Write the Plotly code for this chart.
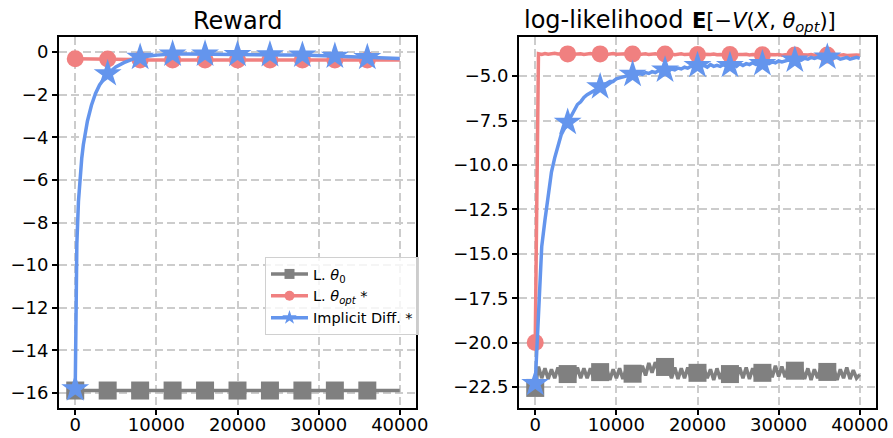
import plotly.graph_objects as go

# ---------------- data ----------------
# Reward panel (training steps vs. reward)
steps_reward = [0, 100, 200, 400, 600, 800, 1000, 1500, 2000, 2500, 3000, 3500, 4000,
                5000, 6000, 7000, 8000, 10000, 12000, 14000, 16000, 18000, 20000,
                22000, 24000, 26000, 28000, 30000, 32000, 34000, 36000, 38000, 40000]
reward_theta0 = [-15.88] * len(steps_reward)
reward_theta_opt = [-0.32, -0.32, -0.32, -0.32, -0.32, -0.32, -0.32, -0.32, -0.32, -0.32,
                    -0.33, -0.33, -0.33, -0.34, -0.35, -0.36, -0.38, -0.38, -0.38, -0.38,
                    -0.38, -0.38, -0.38, -0.38, -0.38, -0.38, -0.38, -0.38, -0.38, -0.38,
                    -0.38, -0.38, -0.38]
reward_implicit = [-15.8, -11.8, -9.0, -7.0, -5.9, -5.0, -4.35, -3.25, -2.5, -1.95, -1.55,
                   -1.25, -1.02, -0.7, -0.5, -0.35, -0.25, -0.15, -0.1, -0.1, -0.1, -0.11,
                   -0.12, -0.12, -0.13, -0.14, -0.15, -0.17, -0.2, -0.23, -0.26, -0.29, -0.31]

# Log-likelihood panel (sampled every 400 steps)
steps_ll = list(range(0, 40001, 400))
ll_theta0 = [
    -22.55,
    -21.35, -22.0, -21.45, -22.05, -21.5, -22.0, -21.4, -22.05, -21.5, -21.77,
    -21.45, -22.05, -21.4, -22.0, -21.45, -22.0, -21.45, -22.0, -21.4, -21.66,
    -22.0, -21.45, -22.1, -21.5, -22.0, -21.45, -22.05, -21.5, -22.0, -21.75,
    -21.35, -21.95, -21.3, -21.85, -21.15, -21.7, -21.1, -21.65, -21.15, -21.37,
    -21.45, -22.0, -21.4, -22.05, -21.45, -22.0, -21.4, -22.05, -21.45, -21.7,
    -22.05, -21.45, -22.0, -21.5, -22.1, -21.45, -22.05, -21.5, -22.1, -21.77,
    -21.45, -22.05, -21.4, -22.0, -21.4, -22.05, -21.45, -22.0, -21.4, -21.7,
    -22.0, -21.35, -21.95, -21.3, -21.9, -21.35, -21.95, -21.3, -21.85, -21.58,
    -22.0, -21.4, -22.05, -21.45, -22.1, -21.5, -22.0, -21.4, -21.95, -21.65,
    -22.05, -21.45, -22.1, -21.5, -22.0, -21.4, -22.05, -21.55, -22.0, -21.8,
]
ll_theta_opt = [
    -20.0,
    -3.74, -3.78, -3.73, -3.77, -3.75, -3.72, -3.76, -3.74, -3.78, -3.75,
    -3.73, -3.77, -3.75, -3.74, -3.78, -3.75, -3.73, -3.77, -3.76, -3.75,
    -3.74, -3.78, -3.75, -3.73, -3.77, -3.75, -3.76, -3.74, -3.78, -3.76,
    -3.75, -3.78, -3.76, -3.74, -3.79, -3.76, -3.75, -3.78, -3.77, -3.76,
    -3.78, -3.76, -3.8, -3.77, -3.75, -3.79, -3.77, -3.78, -3.76, -3.78,
    -3.8, -3.77, -3.79, -3.78, -3.76, -3.8, -3.78, -3.79, -3.77, -3.79,
    -3.81, -3.78, -3.8, -3.79, -3.77, -3.81, -3.79, -3.8, -3.78, -3.8,
    -3.82, -3.79, -3.81, -3.8, -3.78, -3.82, -3.8, -3.81, -3.79, -3.81,
    -3.83, -3.8, -3.82, -3.81, -3.79, -3.83, -3.81, -3.82, -3.8, -3.82,
    -3.84, -3.81, -3.83, -3.82, -3.8, -3.84, -3.82, -3.83, -3.81, -3.83,
]
ll_implicit = [
    -22.3,
    -18.4, -14.6, -13.1, -11.8, -10.4, -9.6, -8.9, -8.3, -7.95, -7.6,
    -7.2, -6.95, -6.6, -6.45, -6.2, -6.05, -5.95, -5.8, -5.75, -5.6,
    -5.5, -5.45, -5.3, -5.3, -5.15, -5.1, -5.05, -5.0, -4.95, -4.9,
    -4.95, -4.85, -4.9, -4.8, -4.85, -4.75, -4.8, -4.7, -4.75, -4.66,
    -4.7, -4.6, -4.65, -4.55, -4.6, -4.5, -4.55, -4.45, -4.5, -4.4,
    -4.45, -4.4, -4.5, -4.35, -4.45, -4.4, -4.45, -4.35, -4.45, -4.4,
    -4.35, -4.45, -4.3, -4.4, -4.3, -4.35, -4.25, -4.35, -4.3, -4.3,
    -4.25, -4.3, -4.2, -4.25, -4.15, -4.2, -4.15, -4.1, -4.15, -4.1,
    -4.05, -4.1, -4.0, -4.05, -3.95, -4.0, -3.95, -4.0, -3.9, -3.93,
    -3.95, -4.0, -3.95, -4.05, -4.0, -3.95, -4.05, -4.0, -3.95, -4.0,
]

x_ticks = [0, 10000, 20000, 30000, 40000]
reward_y_ticks = [-16, -14, -12, -10, -8, -6, -4, -2, 0]
ll_y_ticks = [-22.5, -20.0, -17.5, -15.0, -12.5, -10.0, -7.5, -5.0]

series_names = ["L. <i>θ</i><sub>0</sub>",
                "L. <i>θ</i><sub><i>opt</i></sub> *",
                "Implicit Diff. *"]

# ---------------- styling ----------------
GRAY, RED, BLUE = "#808080", "#F08080", "#6495ED"
FONT = "DejaVu Sans"
MARK_EVERY = 4000
LINE_W = 3.5
styles = [
    dict(color=GRAY, symbol="square", size=18),
    dict(color=RED, symbol="circle", size=17),
    dict(color=BLUE, symbol="star", size=21),
]

fig = go.Figure()


def add_series(x, y, style, xa, ya):
    fig.add_trace(go.Scatter(
        x=x, y=y, mode="lines", xaxis=xa, yaxis=ya, showlegend=False,
        line=dict(color=style["color"], width=LINE_W), hoverinfo="skip"))
    mx = [xi for xi in x if xi % MARK_EVERY == 0 and xi < 40000]
    my = [yi for xi, yi in zip(x, y) if xi % MARK_EVERY == 0 and xi < 40000]
    fig.add_trace(go.Scatter(
        x=mx, y=my, mode="markers", xaxis=xa, yaxis=ya, showlegend=False,
        marker=dict(color=style["color"], symbol=style["symbol"], size=style["size"])))


for ys, st in zip([reward_theta0, reward_theta_opt, reward_implicit], styles):
    add_series(steps_reward, ys, st, "x", "y")
for ys, st in zip([ll_theta0, ll_theta_opt, ll_implicit], styles):
    add_series(steps_ll, ys, st, "x2", "y2")

# legend entries
legend_sizes = [10, 10, 11]
for name, st, ls in zip(series_names, styles, legend_sizes):
    fig.add_trace(go.Scatter(
        x=[None], y=[None], mode="lines+markers", name=name, xaxis="x", yaxis="y",
        line=dict(color=st["color"], width=LINE_W),
        marker=dict(color=st["color"], symbol=st["symbol"], size=ls)))

W, H = 893, 438
left_dom = [59 / W, 416 / W]
right_dom = [519 / W, 876 / W]
y_dom = [(H - 408) / H, (H - 37) / H]

axis_common = dict(
    showline=True, linecolor="black", linewidth=2, mirror=True,
    ticks="outside", ticklen=5, tickwidth=2, tickcolor="black",
    showgrid=True, gridcolor="#cccccc", gridwidth=2, griddash="8px,4px",
    zeroline=False, automargin=False,
    tickfont=dict(family=FONT, size=18, color="black"),
)
x_common = dict(range=[-2000, 42000], tickvals=x_ticks, tickformat="d",
                ticklabelstandoff=-6, **axis_common)

title_font = dict(family=FONT, size=24, color="black")
math_font = dict(family=FONT, size=21, color="black")
fig.update_layout(
    width=W, height=H,
    margin=dict(l=0, r=0, t=0, b=0),
    paper_bgcolor="white", plot_bgcolor="white",
    font=dict(family=FONT, color="black"),
    xaxis=dict(domain=left_dom, anchor="y", **x_common),
    yaxis=dict(domain=y_dom, anchor="x", range=[-16.7, 0.7],
               tickvals=reward_y_ticks, tickformat="d", **axis_common),
    xaxis2=dict(domain=right_dom, anchor="y2", **x_common),
    yaxis2=dict(domain=y_dom, anchor="x2", range=[-23.68, -2.8],
                tickvals=ll_y_ticks, tickformat=".1f", **axis_common),
    legend=dict(x=265 / W, y=(H - 257) / H, xanchor="left", yanchor="top",
                itemwidth=37,
                bgcolor="rgba(255,255,255,0.8)", bordercolor="#d0d0d0", borderwidth=1,
                font=dict(family=FONT, size=14.5, color="black")),
    annotations=[
        dict(text="Reward", x=(left_dom[0] + left_dom[1]) / 2, y=(H - 21) / H,
             xref="paper", yref="paper", xanchor="center", yanchor="middle",
             showarrow=False, font=title_font),
        dict(text="log-likelihood", x=522 / W, y=(H - 4) / H,
             xref="paper", yref="paper", xanchor="left", yanchor="top",
             showarrow=False, font=title_font),
        dict(text="<b>E</b>[−<i>V</i>(<i>X</i>, <i>θ<sub>opt</sub></i>)]",
             x=690 / W, y=(H - 6.8) / H,
             xref="paper", yref="paper", xanchor="left", yanchor="top",
             showarrow=False, font=math_font),
    ],
)

fig.write_html("out.html")
